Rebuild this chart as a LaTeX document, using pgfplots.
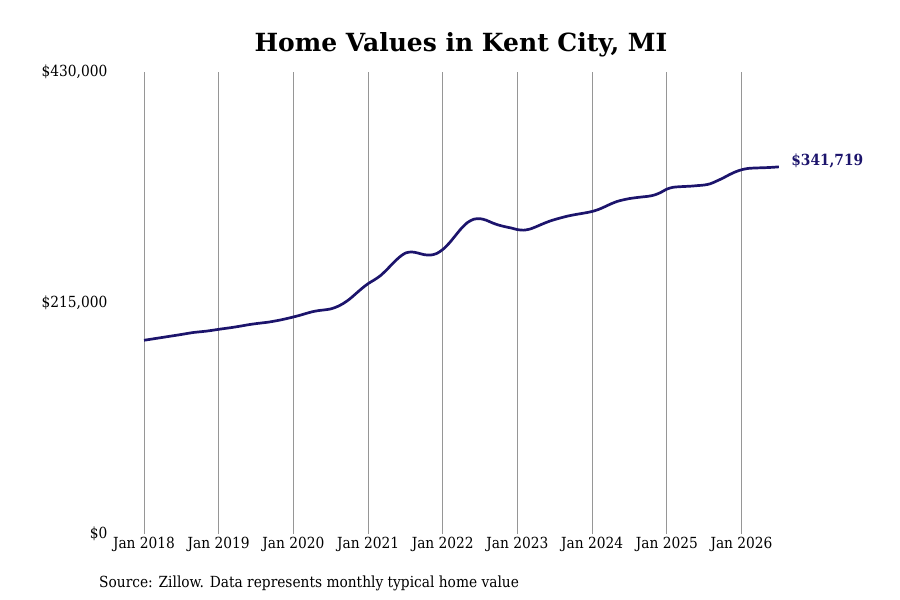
\documentclass[border=0pt]{standalone}
\usepackage{fontspec}
\setmainfont{DejaVu Serif}
\newfontfamily\condfont{DejaVu Serif Condensed}
\usepackage{pgfplots}
\pgfplotsset{compat=1.18}
\definecolor{navyline}{RGB}{28,20,108}
\definecolor{gridgray}{RGB}{150,150,150}
\pgfplotstableread{
m v
0 180300
1 181200
2 182100
3 183000
4 183900
5 184800
6 185700
7 186700
8 187600
9 188200
10 188800
11 189600
12 190500
13 191300
14 192100
15 193000
16 194000
17 195000
18 195800
19 196500
20 197200
21 198200
22 199300
23 200600
24 202000
25 203500
26 205200
27 206800
28 207900
29 208600
30 209500
31 211500
32 214500
33 218500
34 223500
35 228500
36 233000
37 236500
38 240500
39 246000
40 252000
41 257500
42 261500
43 262500
44 261500
45 260000
46 259600
47 261000
48 264800
49 270500
50 277500
51 284500
52 290000
53 293000
54 293500
55 292000
56 289500
57 287500
58 286000
59 284800
60 283300
61 282800
62 283800
63 286000
64 288500
65 290800
66 292700
67 294300
68 295800
69 297000
70 298000
71 299000
72 300200
73 302000
74 304500
75 307200
76 309500
77 311000
78 312200
79 313000
80 313700
81 314300
82 315500
83 317800
84 321000
85 322700
86 323200
87 323500
88 323800
89 324300
90 324800
91 326000
92 328500
93 331200
94 334300
95 337000
96 339000
97 340200
98 340600
99 340800
100 341000
101 341300
102 341719
}\homedata
\begin{document}
\begin{tikzpicture}[x=1pt,y=1pt]
\path[use as bounding box] (-112.9,-66) rectangle (787.1,534);
\begin{axis}[
  at={(0,0)}, anchor=south west,
  scale only axis, width=678.4pt, height=462pt,
  xmin=-5, xmax=104, ymin=0, ymax=430000,
  axis line style={draw=none},
  xtick={0,12,24,36,48,60,72,84,96},
  xticklabels={Jan 2018,Jan 2019,Jan 2020,Jan 2021,Jan 2022,Jan 2023,Jan 2024,Jan 2025,Jan 2026},
  ytick={0,215000,430000},
  yticklabels={{\$0},{\$215,000},{\$430,000}},
  scaled y ticks=false,
  xmajorgrids, ymajorgrids=false,
  major grid style={gridgray, line width=0.8pt},
  major tick length=0pt,
  tick label style={font=\condfont\fontsize{15.3}{18}\selectfont},
  yticklabel style={xshift=-2pt},
  /pgf/number format/assume math mode=true,
  clip=false,
]
\addplot[navyline, line width=2.7pt, smooth, line join=round] table[x=m,y=v] {\homedata};
\node[anchor=west, font=\condfont\fontsize{15.3}{18}\selectfont\bfseries, text=navyline, xshift=9pt, yshift=5.5pt] at (axis cs:102,341719) {\$341,719};
\end{axis}
\node[font=\fontsize{25}{30}\selectfont\bfseries] at (348.1,489) {Home Values in Kent City, MI};
\node[anchor=west, font=\condfont\fontsize{15.3}{18}\selectfont, inner sep=0pt] at (-13.9,-49) {Source: Zillow. Data represents monthly typical home value};
\end{tikzpicture}
\end{document}
